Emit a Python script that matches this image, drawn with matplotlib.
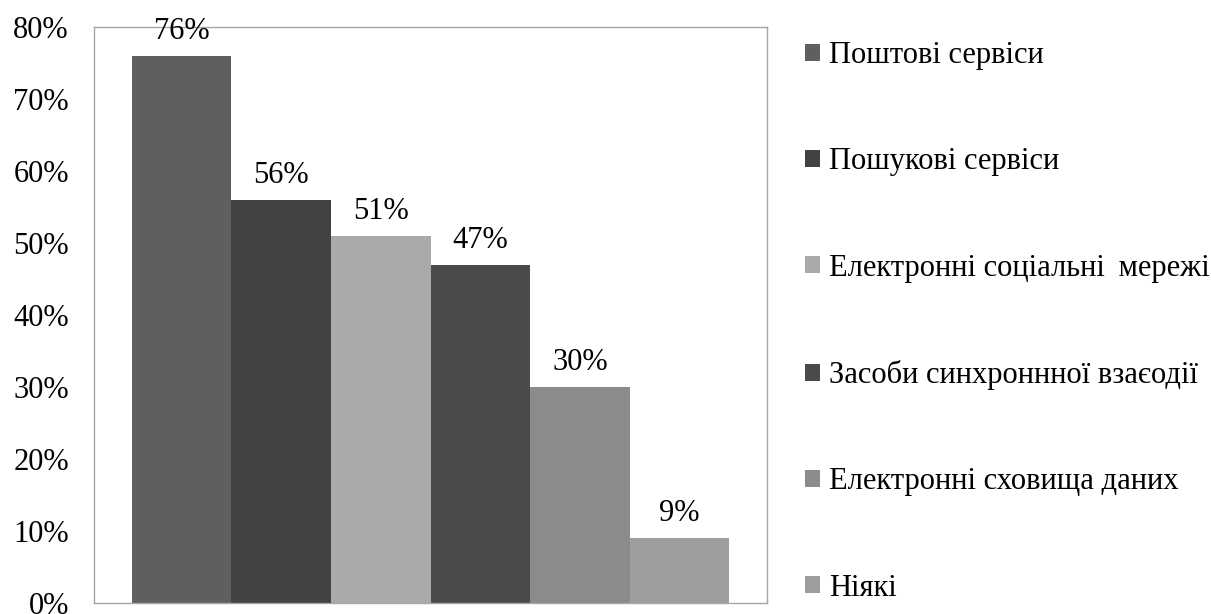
import matplotlib
matplotlib.use("Agg")
import matplotlib.pyplot as plt
from matplotlib.patches import Patch

categories = [
    "Поштові сервіси",
    "Пошукові сервіси",
    "Електронні соціальні \u2009мережі",
    "Засоби синхроннної взаєодії",
    "Електронні сховища даних",
    "Ніякі",
]
values = [76, 56, 51, 47, 30, 9]
colors = ["#5f5f5f", "#424242", "#aaaaaa", "#4a4a4a", "#8b8b8b", "#9e9e9e"]
yticks = [0, 10, 20, 30, 40, 50, 60, 70, 80]

plt.rcParams["font.family"] = ["Liberation Serif", "DejaVu Serif"]
FS = 22

fig = plt.figure(figsize=(12.11, 6.14), dpi=100)
ax = fig.add_axes([0.0776, 0.0179, 0.5558, 0.9381])

x = list(range(len(values)))
ax.bar(x, values, width=1.0, color=colors, linewidth=0)

for xi, v in zip(x, values):
    ax.annotate(f"{v}%", (xi, v), xytext=(0, 7), textcoords="offset points",
                ha="center", va="bottom", fontsize=FS, color="#000000")

gap = 0.38
ax.set_xlim(-0.5 - gap, len(values) - 0.5 + gap)
ax.set_ylim(0, 80)
ax.set_yticks(yticks)
ax.set_yticklabels([f"{t}%" for t in yticks], fontsize=FS)
ax.set_xticks([])
ax.tick_params(axis="y", length=0, pad=18)
for s in ax.spines.values():
    s.set_color("#a6a6a6")
    s.set_linewidth(1.0)

handles = [Patch(facecolor=c, edgecolor="none") for c in colors]
fig.legend(handles, categories, loc="upper left", bbox_to_anchor=(0.655, 0.953),
           frameon=False, fontsize=FS, handlelength=0.48, handleheight=0.48,
           handletextpad=0.3, labelspacing=2.53, borderaxespad=0)

fig.savefig("out.png", dpi=100)
